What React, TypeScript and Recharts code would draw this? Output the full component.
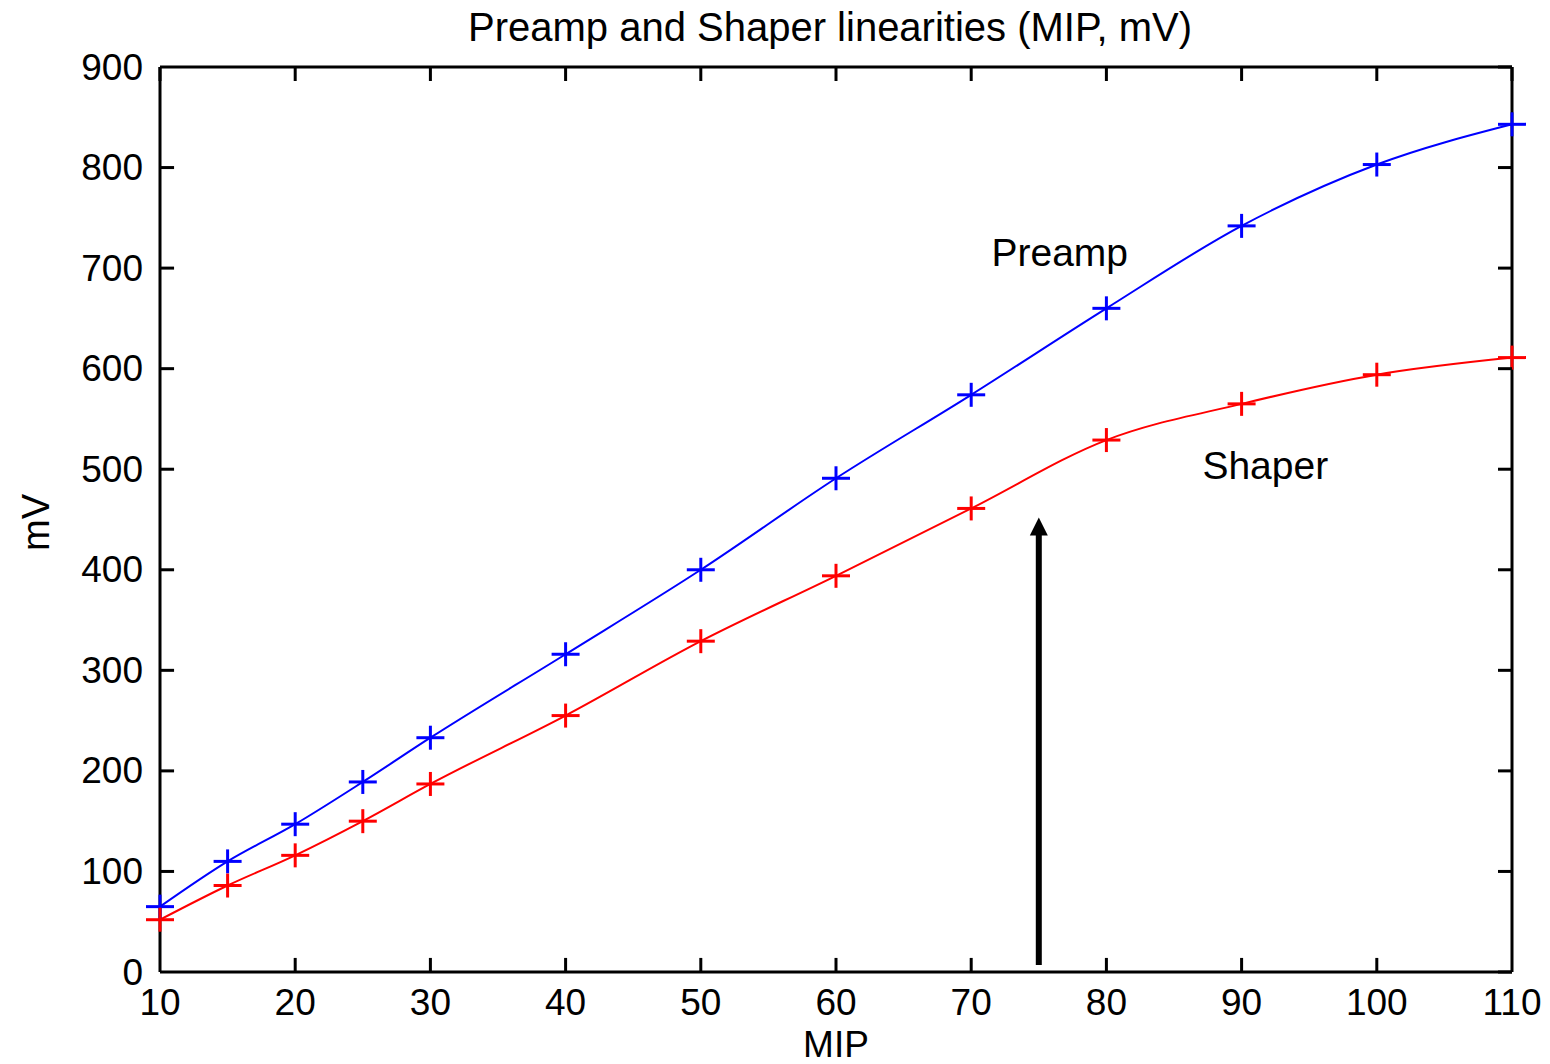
import React from 'react';
import { LineChart, Line, XAxis, YAxis, ReferenceLine, ReferenceDot } from 'recharts';

const mip = [10, 15, 20, 25, 30, 40, 50, 60, 70, 80, 90, 100, 110];
const preamp = [65, 110, 147, 189, 233, 316, 400, 491, 574, 660, 742, 803, 843];
const shaper = [52, 86, 116, 150, 187, 255, 329, 394, 461, 529, 565, 594, 611];
const xTicks = [10, 20, 30, 40, 50, 60, 70, 80, 90, 100, 110];
const yTicks = [0, 100, 200, 300, 400, 500, 600, 700, 800, 900];

const data = mip.map((m, i) => ({ mip: m, preamp: preamp[i], shaper: shaper[i] }));

const FONT = '"Liberation Sans", Arial, sans-serif';
const TICK_LEN = 14;
const X_MARGIN = 14;
const Y_MARGIN = 17;
// inside tick lengths for bottom / left sides, expressed in axis units (~14px)
const BOTTOM_TICK_UNITS = 14;
const LEFT_TICK_UNITS = 1.04;

const Plus = (color: string) => (props: any) => {
  const { cx, cy } = props;
  if (cx == null || cy == null) return null;
  return (
    <g>
      <line x1={cx - 14} y1={cy} x2={cx + 14} y2={cy} stroke={color} strokeWidth={3} />
      <line x1={cx} y1={cy - 12} x2={cx} y2={cy + 12} stroke={color} strokeWidth={3} />
    </g>
  );
};

const XLabelTick = (props: any) => {
  const { x, y, payload } = props;
  return (
    <text x={x} y={y} dy="0.78em" textAnchor="middle" fontFamily={FONT} fontSize={37} fill="#000">
      {payload.value}
    </text>
  );
};

const YLabelTick = (props: any) => {
  const { x, y, payload } = props;
  return (
    <text x={x} y={y} textAnchor="end" dominantBaseline="central" fontFamily={FONT} fontSize={37} fill="#000">
      {payload.value}
    </text>
  );
};

const TopTick = (props: any) => {
  const { x, y } = props;
  return <line x1={x} y1={y} x2={x} y2={y + TICK_LEN} stroke="#000" strokeWidth={3} />;
};

const RightTick = (props: any) => {
  const { x, y } = props;
  return <line x1={x} y1={y} x2={x - TICK_LEN} y2={y} stroke="#000" strokeWidth={3} />;
};

const ArrowHead = (props: any) => {
  const { cx, cy } = props;
  return <polygon points={`${cx},${cy} ${cx - 9},${cy + 18} ${cx + 9},${cy + 18}`} fill="#000" />;
};

const TextAt = (txt: string) => (props: any) => {
  const { cx, cy } = props;
  return (
    <text x={cx} y={cy} dominantBaseline="central" fontFamily={FONT} fontSize={39} fill="#000">
      {txt}
    </text>
  );
};

export default function App() {
  const frame = { stroke: '#000', strokeWidth: 3 };
  return (
    <div style={{ position: 'absolute', left: 0, top: 0, width: 1550, height: 1064, background: '#fff', overflow: 'hidden' }}>
      <div
        style={{
          position: 'absolute',
          left: 0,
          width: 1660,
          top: 5,
          textAlign: 'center',
          fontFamily: FONT,
          fontSize: 40,
          lineHeight: '44px',
          color: '#000',
        }}
      >
        Preamp and Shaper linearities (MIP, mV)
      </div>
      <LineChart
        width={1550}
        height={1064}
        data={data}
        margin={{ top: 67, right: 38, bottom: 0, left: 0 }}
      >
        <XAxis
          xAxisId="b"
          dataKey="mip"
          type="number"
          domain={[10, 110]}
          ticks={xTicks}
          interval={0}
          height={92}
          tickSize={0}
          tickMargin={X_MARGIN}
          axisLine={frame}
          tickLine={false}
          tick={XLabelTick}
          label={{
            content: (p: any) => {
              const vb = p.viewBox;
              const x = vb.x + vb.width / 2;
              const y = vb.y + 72;
              return (
                <text x={x} y={y} textAnchor="middle" dominantBaseline="central" fontFamily={FONT} fontSize={37} fill="#000">
                  MIP
                </text>
              );
            },
          }}
        />
        <XAxis
          xAxisId="t"
          dataKey="mip"
          orientation="top"
          mirror
          type="number"
          domain={[10, 110]}
          ticks={xTicks}
          interval={0}
          height={1}
          tickSize={0}
          tickMargin={0}
          tick={TopTick}
          axisLine={frame}
          tickLine={false}
        />
        <YAxis
          yAxisId="l"
          type="number"
          domain={[0, 900]}
          ticks={yTicks}
          interval={0}
          width={160}
          tickSize={0}
          tickMargin={Y_MARGIN}
          axisLine={frame}
          tickLine={false}
          tick={YLabelTick}
          label={{
            content: (p: any) => {
              const vb = p.viewBox;
              const x = 36;
              const y = vb.y + vb.height / 2 + 3;
              return (
                <text x={x} y={y} transform={`rotate(-90 ${x} ${y})`} textAnchor="middle" dominantBaseline="central" fontFamily={FONT} fontSize={38} fill="#000">
                  mV
                </text>
              );
            },
          }}
        />
        <YAxis
          yAxisId="r"
          orientation="right"
          mirror
          type="number"
          domain={[0, 900]}
          ticks={yTicks}
          interval={0}
          width={1}
          tickSize={0}
          tickMargin={0}
          tick={RightTick}
          axisLine={frame}
          tickLine={false}
        />
        <Line
          xAxisId="t"
          yAxisId="r"
          dataKey="preamp"
          stroke="none"
          dot={false}
          activeDot={false}
          legendType="none"
          isAnimationActive={false}
        />
        {xTicks.slice(1, -1).map((t) => (
          <ReferenceLine
            key={`bx${t}`}
            xAxisId="b"
            yAxisId="l"
            segment={[{ x: t, y: 0 }, { x: t, y: BOTTOM_TICK_UNITS }]}
            stroke="#000"
            strokeWidth={3}
          />
        ))}
        {yTicks.slice(1, -1).map((t) => (
          <ReferenceLine
            key={`ly${t}`}
            xAxisId="b"
            yAxisId="l"
            segment={[{ x: 10, y: t }, { x: 10 + LEFT_TICK_UNITS, y: t }]}
            stroke="#000"
            strokeWidth={3}
          />
        ))}
        <Line
          xAxisId="b"
          yAxisId="l"
          dataKey="preamp"
          stroke="#0000ff"
          strokeWidth={2}
          dot={Plus('#0000ff')}
          isAnimationActive={false}
          type="monotone"
        />
        <Line
          xAxisId="b"
          yAxisId="l"
          dataKey="shaper"
          stroke="#ff0000"
          strokeWidth={2}
          dot={Plus('#ff0000')}
          isAnimationActive={false}
          type="monotone"
        />
        <ReferenceLine
          xAxisId="b"
          yAxisId="l"
          segment={[{ x: 75, y: 7 }, { x: 75, y: 440 }]}
          stroke="#000"
          strokeWidth={6}
        />
        <ReferenceDot xAxisId="b" yAxisId="l" x={75} y={452} shape={ArrowHead} />
        <ReferenceDot xAxisId="b" yAxisId="l" x={71.5} y={716} shape={TextAt('Preamp')} />
        <ReferenceDot xAxisId="b" yAxisId="l" x={87.1} y={504} shape={TextAt('Shaper')} />
      </LineChart>
    </div>
  );
}
